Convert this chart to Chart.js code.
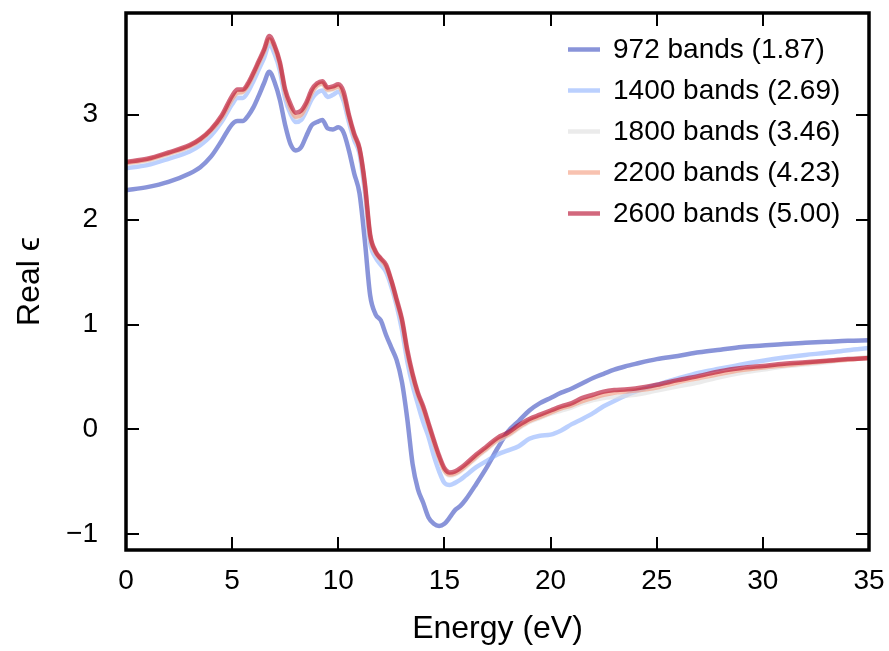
<!DOCTYPE html>
<html>
<head>
<meta charset="utf-8">
<script src="https://cdn.jsdelivr.net/npm/chart.js@4.4.0/dist/chart.umd.min.js"></script>
<style>
    html, body { margin: 0; padding: 0; background: #fff; }
</style>
</head>
<body>
<canvas id="epsChart" width="889" height="651"></canvas>
<script>
// photon energy (eV)
const energies = [
    0, 1, 2, 3, 3.5, 4, 4.5, 5,
    5.25, 5.5, 5.75, 6, 6.25, 6.5, 6.75, 7, 7.25, 7.5, 7.75, 8, 8.25, 8.5, 8.75, 9, 9.25, 9.5, 9.75, 10,
    10.25, 10.5, 10.75, 11, 11.25, 11.5, 11.75, 12, 12.25, 12.5, 12.75, 13, 13.25, 13.5, 13.75, 14, 14.25, 14.5, 14.75, 15, 15.25, 15.5, 15.75, 16,
    16.5, 17, 17.5, 18, 18.5, 19, 19.5, 20, 20.5, 21, 21.5, 22, 22.5, 23, 23.5, 24,
    25, 26, 27, 28, 29, 30, 31, 32, 33, 34, 35,
]

// real part of epsilon for each band count
const bands972 = [
    2.28, 2.31, 2.36, 2.44, 2.50, 2.60, 2.75, 2.91,
    2.94, 2.94, 2.99, 3.07, 3.18, 3.30, 3.41, 3.31, 3.14, 2.90, 2.72, 2.66, 2.69, 2.80, 2.90, 2.93, 2.95, 2.87, 2.86, 2.88,
    2.83, 2.66, 2.44, 2.25, 1.80, 1.28, 1.10, 1.04, 0.90, 0.78, 0.66, 0.45, 0.10, -0.33, -0.57, -0.70, -0.84, -0.90, -0.92, -0.90, -0.84, -0.77, -0.73, -0.67,
    -0.52, -0.36, -0.18, -0.02, 0.08, 0.18, 0.25, 0.30, 0.35, 0.39, 0.44, 0.49, 0.53, 0.57, 0.60, 0.625,
    0.67, 0.70, 0.735, 0.76, 0.785, 0.80, 0.815, 0.825, 0.835, 0.845, 0.85,
]
const bands1400 = [
    2.49, 2.52, 2.58, 2.65, 2.71, 2.80, 2.93, 3.10,
    3.16, 3.16, 3.22, 3.32, 3.43, 3.54, 3.67, 3.58, 3.42, 3.15, 3.01, 2.93, 2.95, 3.04, 3.15, 3.21, 3.23, 3.17, 3.19, 3.22,
    3.13, 2.93, 2.76, 2.63, 2.27, 1.78, 1.64, 1.57, 1.50, 1.36, 1.18, 0.95, 0.65, 0.42, 0.24, 0.07, -0.07, -0.25, -0.40, -0.51, -0.53, -0.51, -0.48, -0.44,
    -0.36, -0.30, -0.24, -0.20, -0.16, -0.09, -0.06, -0.05, -0.01, 0.05, 0.10, 0.155, 0.22, 0.27, 0.32, 0.36,
    0.425, 0.485, 0.54, 0.58, 0.62, 0.655, 0.685, 0.71, 0.73, 0.755, 0.775,
]
const bands1800 = [
    2.53, 2.56, 2.62, 2.69, 2.75, 2.84, 2.96, 3.14,
    3.20, 3.21, 3.27, 3.37, 3.48, 3.59, 3.71, 3.63, 3.47, 3.20, 3.05, 2.97, 2.99, 3.08, 3.20, 3.27, 3.29, 3.23, 3.24, 3.26,
    3.17, 2.97, 2.79, 2.66, 2.32, 1.83, 1.68, 1.61, 1.54, 1.40, 1.21, 1.02, 0.72, 0.50, 0.32, 0.19, 0.03, -0.13, -0.28, -0.40, -0.44, -0.43, -0.40, -0.36,
    -0.27, -0.19, -0.11, -0.06, 0.01, 0.07, 0.11, 0.15, 0.18, 0.21, 0.25, 0.28, 0.30, 0.31, 0.32, 0.33,
    0.37, 0.41, 0.45, 0.50, 0.54, 0.57, 0.60, 0.62, 0.64, 0.67, 0.69,
]
const bands2200 = [
    2.54, 2.57, 2.63, 2.70, 2.76, 2.85, 2.97, 3.15,
    3.21, 3.22, 3.28, 3.38, 3.49, 3.60, 3.72, 3.64, 3.48, 3.21, 3.06, 2.98, 3.00, 3.09, 3.21, 3.28, 3.30, 3.24, 3.25, 3.27,
    3.18, 2.98, 2.80, 2.67, 2.33, 1.84, 1.69, 1.62, 1.55, 1.41, 1.22, 1.03, 0.73, 0.51, 0.33, 0.20, 0.04, -0.12, -0.27, -0.39, -0.43, -0.42, -0.39, -0.35,
    -0.26, -0.18, -0.10, -0.05, 0.02, 0.08, 0.12, 0.16, 0.20, 0.23, 0.27, 0.30, 0.33, 0.35, 0.36, 0.37,
    0.40, 0.45, 0.49, 0.53, 0.565, 0.59, 0.61, 0.63, 0.65, 0.665, 0.68,
]
const bands2600 = [
    2.55, 2.58, 2.64, 2.71, 2.77, 2.86, 2.99, 3.18,
    3.24, 3.24, 3.30, 3.40, 3.51, 3.62, 3.75, 3.66, 3.50, 3.24, 3.10, 3.02, 3.04, 3.12, 3.24, 3.30, 3.32, 3.26, 3.27, 3.29,
    3.22, 3.00, 2.82, 2.68, 2.35, 1.86, 1.70, 1.63, 1.57, 1.42, 1.24, 1.05, 0.76, 0.53, 0.35, 0.22, 0.06, -0.10, -0.25, -0.37, -0.41, -0.40, -0.37, -0.33,
    -0.24, -0.16, -0.08, -0.03, 0.04, 0.10, 0.14, 0.18, 0.22, 0.25, 0.30, 0.33, 0.36, 0.375, 0.38, 0.39,
    0.425, 0.47, 0.51, 0.555, 0.585, 0.605, 0.625, 0.64, 0.655, 0.67, 0.68,
]

const seriesLabels = [
    '972 bands (1.87)',
    '1400 bands (2.69)',
    '1800 bands (3.46)',
    '2200 bands (4.23)',
    '2600 bands (5.00)',
]
const seriesValues = [bands972, bands1400, bands1800, bands2200, bands2600]

// coolwarm samples, drawn at alpha 0.6
const seriesColors = [
    'rgba(59, 76, 192, 0.6)',
    'rgba(141, 176, 254, 0.6)',
    'rgba(221, 221, 221, 0.6)',
    'rgba(244, 154, 123, 0.6)',
    'rgba(180, 4, 38, 0.6)',
]

const xTicks = [0, 5, 10, 15, 20, 25, 30, 35]
const yTicks = [-1, 0, 1, 2, 3]

const FONT = "'Liberation Sans', Arial, Helvetica, sans-serif"

// box around the plot with inward ticks on every side
const framePlugin = {
    id: 'frame',
    afterDatasetsDraw(chart) {
        const { ctx, chartArea: a, scales } = chart
        const len = 13
        ctx.save()
        ctx.strokeStyle = '#000'
        ctx.lineWidth = 2
        ctx.beginPath()
        scales.x.ticks.forEach((t) => {
            const px = Math.round(scales.x.getPixelForValue(t.value))
            ctx.moveTo(px, a.bottom)
            ctx.lineTo(px, a.bottom - len)
            ctx.moveTo(px, a.top)
            ctx.lineTo(px, a.top + len)
        })
        scales.y.ticks.forEach((t) => {
            const py = Math.round(scales.y.getPixelForValue(t.value))
            ctx.moveTo(a.left, py)
            ctx.lineTo(a.left + len, py)
            ctx.moveTo(a.right, py)
            ctx.lineTo(a.right - len, py)
        })
        ctx.stroke()
        ctx.lineWidth = 3.5
        ctx.strokeRect(a.left, a.top, a.right - a.left, a.bottom - a.top)
        ctx.restore()
    },
}

// legend inside the axes, top right, no frame
const legendPlugin = {
    id: 'innerLegend',
    afterDraw(chart) {
        const { ctx } = chart
        const x0 = 568
        const y0 = 49.5
        const rowGap = 41
        ctx.save()
        ctx.font = '28px ' + FONT
        ctx.textBaseline = 'middle'
        ctx.textAlign = 'left'
        chart.data.datasets.forEach((ds, i) => {
            const y = y0 + i * rowGap
            ctx.strokeStyle = ds.borderColor
            ctx.lineWidth = ds.borderWidth
            ctx.beginPath()
            ctx.moveTo(x0, y)
            ctx.lineTo(x0 + 32, y)
            ctx.stroke()
            ctx.fillStyle = '#000'
            ctx.fillText(ds.label, x0 + 45, y + 1)
        })
        ctx.restore()
    },
}

const datasets = seriesLabels.map((label, i) => ({
    label: label,
    data: energies.map((e, j) => ({ x: e, y: seriesValues[i][j] })),
    borderColor: seriesColors[i],
    borderWidth: 4.5,
    pointRadius: 0,
    cubicInterpolationMode: 'monotone',
    fill: false,
    // later series sit on top
    order: seriesLabels.length - i,
}))

const ctx = document.getElementById('epsChart').getContext('2d')
new Chart(ctx, {
    type: 'line',
    data: { datasets: datasets },
    options: {
        responsive: false,
        animation: false,
        events: [],
        layout: {
            padding: { top: 13, right: 20, left: 0, bottom: 0 },
        },
        plugins: {
            legend: { display: false },
            tooltip: { enabled: false },
        },
        scales: {
            x: {
                type: 'linear',
                min: 0,
                max: 35,
                grid: { display: false },
                border: { display: false },
                afterBuildTicks: (scale) => {
                    scale.ticks = xTicks.map((v) => ({ value: v }))
                },
                afterFit: (scale) => {
                    scale.height = 101
                    // labels may spill into the margin, keep the plot box fixed
                    scale.paddingLeft = 0
                    scale.paddingRight = 0
                },
                ticks: {
                    padding: 6,
                    color: '#000',
                    font: { family: FONT, size: 28 },
                    maxRotation: 0,
                    callback: (v) => String(v),
                },
                title: {
                    display: true,
                    text: 'Energy (eV)',
                    color: '#000',
                    font: { family: FONT, size: 32 },
                    padding: { top: 0, bottom: 3 },
                },
            },
            y: {
                type: 'linear',
                min: -1.15,
                max: 3.97,
                grid: { display: false },
                border: { display: false },
                afterBuildTicks: (scale) => {
                    scale.ticks = yTicks.map((v) => ({ value: v }))
                },
                afterFit: (scale) => {
                    scale.width = 126
                    scale.paddingTop = 0
                    scale.paddingBottom = 0
                },
                ticks: {
                    padding: 20,
                    color: '#000',
                    font: { family: FONT, size: 28 },
                    callback: (v) => (v < 0 ? '\u2212' + Math.abs(v) : String(v)),
                },
                title: {
                    display: true,
                    text: 'Real \u03f5',
                    color: '#000',
                    font: { family: FONT, size: 32 },
                    padding: { top: 11, bottom: 0 },
                },
            },
        },
    },
    plugins: [framePlugin, legendPlugin],
})
</script>
</body>
</html>
